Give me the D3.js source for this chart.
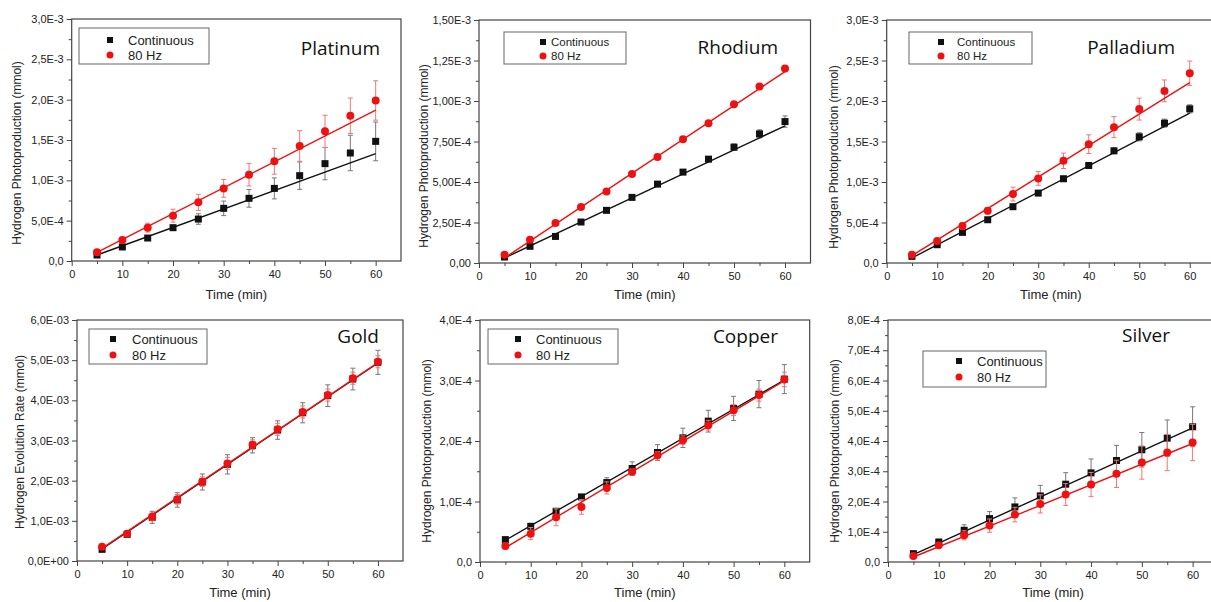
<html>
<script src='https://d3js.org/d3.v7.min.js'></script>
<style>
  body {margin: 0; background: #fff;}
  text {font-family: 'Liberation Sans', Arial, sans-serif;}
  .title {font-family: 'Open Sans', sans-serif; font-size: 19px; fill: #111;}
</style>
<body>
<svg width=1211 height=602></svg>
<script>
// shared time points (min)
const times = [5, 10, 15, 20, 25, 30, 35, 40, 45, 50, 55, 60];
const fitTimes = [5, 60];
const seriesNames = ['Continuous', '80 Hz'];

// Platinum
const ptCont    = [0.074e-3, 0.174e-3, 0.285e-3, 0.413e-3, 0.52e-3, 0.653e-3, 0.777e-3, 0.90e-3, 1.058e-3, 1.207e-3, 1.339e-3, 1.483e-3];
const ptContErr = [0.01e-3, 0.015e-3, 0.02e-3, 0.03e-3, 0.065e-3, 0.09e-3, 0.11e-3, 0.13e-3, 0.17e-3, 0.2e-3, 0.22e-3, 0.24e-3];
const ptHz      = [0.107e-3, 0.26e-3, 0.413e-3, 0.562e-3, 0.727e-3, 0.90e-3, 1.07e-3, 1.236e-3, 1.426e-3, 1.607e-3, 1.80e-3, 1.99e-3];
const ptHzErr   = [0.02e-3, 0.03e-3, 0.055e-3, 0.08e-3, 0.1e-3, 0.11e-3, 0.14e-3, 0.16e-3, 0.19e-3, 0.2e-3, 0.22e-3, 0.244e-3];
const ptContFit = [0.074e-3, 1.33e-3];
const ptHzFit   = [0.107e-3, 1.87e-3];
const ptTicks   = ['0,0', '5,0E-4', '1,0E-3', '1,5E-3', '2,0E-3', '2,5E-3', '3,0E-3'];

// Rhodium
const rhCont    = [0.037e-3, 0.103e-3, 0.164e-3, 0.253e-3, 0.325e-3, 0.405e-3, 0.487e-3, 0.561e-3, 0.641e-3, 0.715e-3, 0.797e-3, 0.873e-3];
const rhContErr = [0.005e-3, 0.005e-3, 0.008e-3, 0.008e-3, 0.008e-3, 0.008e-3, 0.01e-3, 0.01e-3, 0.012e-3, 0.02e-3, 0.025e-3, 0.035e-3];
const rhHz      = [0.051e-3, 0.144e-3, 0.247e-3, 0.345e-3, 0.442e-3, 0.549e-3, 0.655e-3, 0.764e-3, 0.863e-3, 0.98e-3, 1.089e-3, 1.20e-3];
const rhHzErr   = [0.005e-3, 0.005e-3, 0.006e-3, 0.006e-3, 0.006e-3, 0.007e-3, 0.007e-3, 0.008e-3, 0.008e-3, 0.01e-3, 0.01e-3, 0.012e-3];
const rhContFit = [0.031e-3, 0.847e-3];
const rhHzFit   = [0.031e-3, 1.181e-3];
const rhTicks   = ['0,00', '2,50E-4', '5,00E-4', '7,50E-4', '1,00E-3', '1,25E-3', '1,50E-3'];

// Palladium
const pdCont    = [0.082e-3, 0.226e-3, 0.378e-3, 0.534e-3, 0.695e-3, 0.863e-3, 1.04e-3, 1.204e-3, 1.385e-3, 1.558e-3, 1.726e-3, 1.903e-3];
const pdContErr = [0.01e-3, 0.015e-3, 0.02e-3, 0.02e-3, 0.03e-3, 0.03e-3, 0.03e-3, 0.03e-3, 0.035e-3, 0.05e-3, 0.05e-3, 0.05e-3];
const pdHz      = [0.103e-3, 0.271e-3, 0.456e-3, 0.645e-3, 0.851e-3, 1.044e-3, 1.262e-3, 1.467e-3, 1.677e-3, 1.90e-3, 2.125e-3, 2.343e-3];
const pdHzErr   = [0.02e-3, 0.02e-3, 0.04e-3, 0.04e-3, 0.085e-3, 0.085e-3, 0.095e-3, 0.115e-3, 0.13e-3, 0.135e-3, 0.135e-3, 0.15e-3];
const pdContFit = [0.062e-3, 1.85e-3];
const pdHzFit   = [0.09e-3, 2.228e-3];
const pdTicks   = ['0,0', '5,0E-4', '1,0E-3', '1,5E-3', '2,0E-3', '2,5E-3', '3,0E-3'];

// Gold
const auCont    = [0.29e-3, 0.664e-3, 1.087e-3, 1.519e-3, 1.967e-3, 2.407e-3, 2.88e-3, 3.26e-3, 3.69e-3, 4.116e-3, 4.53e-3, 4.946e-3];
const auContErr = [0.05e-3, 0.06e-3, 0.15e-3, 0.18e-3, 0.2e-3, 0.24e-3, 0.19e-3, 0.23e-3, 0.25e-3, 0.27e-3, 0.27e-3, 0.30e-3];
const auHz      = [0.357e-3, 0.68e-3, 1.10e-3, 1.535e-3, 1.975e-3, 2.43e-3, 2.896e-3, 3.278e-3, 3.71e-3, 4.13e-3, 4.55e-3, 4.96e-3];
const auHzErr   = [0.04e-3, 0.05e-3, 0.1e-3, 0.12e-3, 0.12e-3, 0.15e-3, 0.12e-3, 0.15e-3, 0.15e-3, 0.15e-3, 0.15e-3, 0.15e-3];
const auContFit = [0.3e-3, 4.93e-3];
const auHzFit   = [0.315e-3, 4.94e-3];
const auTicks   = ['0,0E+00', '1,0E-03', '2,0E-03', '3,0E-03', '4,0E-03', '5,0E-03', '6,0E-03'];

// Copper
const cuCont    = [0.37e-4, 0.59e-4, 0.839e-4, 1.076e-4, 1.313e-4, 1.545e-4, 1.81e-4, 2.052e-4, 2.328e-4, 2.538e-4, 2.775e-4, 3.023e-4];
const cuContErr = [0.02e-4, 0.03e-4, 0.03e-4, 0.04e-4, 0.08e-4, 0.11e-4, 0.13e-4, 0.16e-4, 0.18e-4, 0.2e-4, 0.225e-4, 0.24e-4];
const cuHz      = [0.265e-4, 0.469e-4, 0.739e-4, 0.91e-4, 1.225e-4, 1.49e-4, 1.766e-4, 2.014e-4, 2.262e-4, 2.51e-4, 2.759e-4, 3.018e-4];
const cuHzErr   = [0.05e-4, 0.1e-4, 0.14e-4, 0.12e-4, 0.1e-4, 0.05e-4, 0.06e-4, 0.07e-4, 0.08e-4, 0.09e-4, 0.1e-4, 0.12e-4];
const cuContFit = [0.359e-4, 3.007e-4];
const cuHzFit   = [0.237e-4, 2.996e-4];
const cuTicks   = ['0,0', '1,0E-4', '2,0E-4', '3,0E-4', '4,0E-4'];

// Silver
const agCont    = [0.276e-4, 0.662e-4, 1.049e-4, 1.435e-4, 1.82e-4, 2.185e-4, 2.572e-4, 2.947e-4, 3.355e-4, 3.71e-4, 4.095e-4, 4.47e-4];
const agContErr = [0.03e-4, 0.05e-4, 0.18e-4, 0.23e-4, 0.3e-4, 0.35e-4, 0.38e-4, 0.46e-4, 0.5e-4, 0.57e-4, 0.6e-4, 0.66e-4];
const agHz      = [0.199e-4, 0.552e-4, 0.883e-4, 1.203e-4, 1.567e-4, 1.92e-4, 2.23e-4, 2.56e-4, 2.914e-4, 3.289e-4, 3.62e-4, 3.95e-4];
const agHzErr   = [0.03e-4, 0.05e-4, 0.15e-4, 0.22e-4, 0.24e-4, 0.3e-4, 0.36e-4, 0.4e-4, 0.45e-4, 0.55e-4, 0.6e-4, 0.6e-4];
const agContFit = [0.243e-4, 4.437e-4];
const agHzFit   = [0.166e-4, 3.918e-4];
const agTicks   = ['0,0', '1,0E-4', '2,0E-4', '3,0E-4', '4,0E-4', '5,0E-4', '6,0E-4', '7,0E-4', '8,0E-4'];

const xTicks = [0, 10, 20, 30, 40, 50, 60];
const xMinor = [5, 15, 25, 35, 45, 55];

const black = '#111', red = '#ee1111';
const blackErr = '#777', redErr = '#e77';

// panel layout
const panels = [
  {name: 'Platinum', cont: ptCont, contErr: ptContErr, hz: ptHz, hzErr: ptHzErr, contFit: ptContFit, hzFit: ptHzFit,
   ticks: ptTicks, yMax: 3.0e-3, ylab: 'Hydrogen Photoproduction (mmol)',
   box: [71.7, 401, 19, 261], ylx: 17, yly: 153, xly: 299, title: [380, 55],
   leg: {x0: 79, x1: 209, y0: 28, y1: 64, mx: 110, tx: 128, r1: 40, r2: 55, fs: 13}},
  {name: 'Rhodium', cont: rhCont, contErr: rhContErr, hz: rhHz, hzErr: rhHzErr, contFit: rhContFit, hzFit: rhHzFit,
   ticks: rhTicks, yMax: 1.5e-3, ylab: 'Hydrogen Photoproduction (mmol)',
   box: [479, 810.5, 20, 263], ylx: 424, yly: 156, xly: 299, title: [778, 54],
   leg: {x0: 504, x1: 626, y0: 32, y1: 64, mx: 543, tx: 551, r1: 42, r2: 56, fs: 11.5}},
  {name: 'Palladium', cont: pdCont, contErr: pdContErr, hz: pdHz, hzErr: pdHzErr, contFit: pdContFit, hzFit: pdHzFit,
   ticks: pdTicks, yMax: 3.0e-3, ylab: 'Hydrogen Photoproduction (mmol)',
   box: [886.7, 1215, 20, 263], ylx: 834, yly: 157, xly: 299, title: [1175, 54],
   leg: {x0: 909, x1: 1032, y0: 32, y1: 64, mx: 941, tx: 957, r1: 42, r2: 56, fs: 11.5}},
  {name: 'Gold', cont: auCont, contErr: auContErr, hz: auHz, hzErr: auHzErr, contFit: auContFit, hzFit: auHzFit,
   ticks: auTicks, yMax: 6.0e-3, ylab: 'Hydrogen Evolution Rate (mmol)',
   box: [77, 403, 320, 561], ylx: 20, yly: 442, xly: 597, title: [379, 343],
   leg: {x0: 89, x1: 207, y0: 329, y1: 364, mx: 113, tx: 132, r1: 339, r2: 355, fs: 13}},
  {name: 'Copper', cont: cuCont, contErr: cuContErr, hz: cuHz, hzErr: cuHzErr, contFit: cuContFit, hzFit: cuHzFit,
   ticks: cuTicks, yMax: 4.0e-4, ylab: 'Hydrogen Photoproduction (mmol)',
   box: [480, 809.7, 320, 562], ylx: 427, yly: 451, xly: 597, title: [778, 343],
   leg: {x0: 488, x1: 618, y0: 329, y1: 364, mx: 518, tx: 536, r1: 339, r2: 355, fs: 13}},
  {name: 'Silver', cont: agCont, contErr: agContErr, hz: agHz, hzErr: agHzErr, contFit: agContFit, hzFit: agHzFit,
   ticks: agTicks, yMax: 8.0e-4, ylab: 'Hydrogen Photoproduction (mmol)',
   box: [888, 1218, 320, 562], ylx: 835, yly: 451, xly: 597, title: [1170, 342],
   leg: {x0: 923, x1: 1046, y0: 351, y1: 387, mx: 959, tx: 977, r1: 361, r2: 377, fs: 13}}
];

const svg = d3.select('svg');

panels.forEach(function(p) {
  const [L, R, T, B] = p.box;
  const x = d3.scaleLinear().domain([0, 65]).range([L, R]);
  const y = d3.scaleLinear().domain([0, p.yMax]).range([B, T]);
  const g = svg.append('g');
  const nT = p.ticks.length;
  const yMajor = d3.range(nT).map(i => p.yMax * i / (nT - 1));
  const yMinorV = d3.range(nT - 1).map(i => p.yMax * (i + 0.5) / (nT - 1));

  // frame
  g.append('rect').attr('x', L).attr('y', T).attr('width', R - L).attr('height', B - T)
    .attr('fill', 'none').attr('stroke', '#444').attr('stroke-width', 1.2);

  // axes
  const ax = g.append('g').attr('transform', 'translate(0,' + B + ')')
    .call(d3.axisBottom(x).tickValues(xTicks).tickSize(5).tickPadding(4));
  g.append('g').attr('transform', 'translate(0,' + B + ')')
    .call(d3.axisBottom(x).tickValues(xMinor).tickSize(3).tickFormat(''));
  g.append('g').attr('transform', 'translate(' + L + ',0)')
    .call(d3.axisLeft(y).tickValues(yMajor).tickSize(5).tickPadding(3).tickFormat((d, i) => p.ticks[i]));
  g.append('g').attr('transform', 'translate(' + L + ',0)')
    .call(d3.axisLeft(y).tickValues(yMinorV).tickSize(3).tickFormat(''));
  g.selectAll('.domain').remove();
  g.selectAll('.tick line').attr('stroke', '#444');
  g.selectAll('.tick text').attr('fill', '#222').style('font-size', '11px');

  // axis titles
  g.append('text').attr('x', (L + R) / 2).attr('y', p.xly).attr('text-anchor', 'middle')
    .style('font-size', '13px').attr('fill', '#222').text('Time (min)');
  g.append('text').attr('transform', 'translate(' + p.ylx + ',' + p.yly + ') rotate(-90)')
    .attr('text-anchor', 'middle').attr('dy', '0.35em').style('font-size', '12px').attr('fill', '#222').text(p.ylab);

  // series: continuous then 80 Hz
  const series = [
    {v: p.cont, e: p.contErr, f: p.contFit, c: black, ec: blackErr, sq: true},
    {v: p.hz, e: p.hzErr, f: p.hzFit, c: red, ec: redErr, sq: false}
  ];
  series.forEach(function(s) {
    const eg = g.append('g').attr('stroke', s.ec).attr('stroke-width', 1);
    times.forEach(function(t, i) {
      const cx = x(t), y0 = y(s.v[i] - s.e[i]), y1 = y(s.v[i] + s.e[i]);
      eg.append('line').attr('x1', cx).attr('x2', cx).attr('y1', y0).attr('y2', y1);
      eg.append('line').attr('x1', cx - 2.5).attr('x2', cx + 2.5).attr('y1', y0).attr('y2', y0);
      eg.append('line').attr('x1', cx - 2.5).attr('x2', cx + 2.5).attr('y1', y1).attr('y2', y1);
    });
    g.append('path')
      .attr('d', d3.line()(fitTimes.map((t, i) => [x(t), y(s.f[i])])))
      .attr('fill', 'none').attr('stroke', s.c).attr('stroke-width', 1.4);
    if (s.sq) {
      g.selectAll(null).data(times).enter().append('rect')
        .attr('x', d => x(d) - 3.5).attr('y', (d, i) => y(s.v[i]) - 3.5)
        .attr('width', 7).attr('height', 7).attr('fill', s.c);
    } else {
      g.selectAll(null).data(times).enter().append('circle')
        .attr('cx', d => x(d)).attr('cy', (d, i) => y(s.v[i]))
        .attr('r', 4).attr('fill', s.c);
    }
  });

  // legend
  const lg = p.leg;
  g.append('rect').attr('x', lg.x0).attr('y', lg.y0).attr('width', lg.x1 - lg.x0).attr('height', lg.y1 - lg.y0)
    .attr('fill', '#fff').attr('stroke', '#666').attr('stroke-width', 1);
  g.append('rect').attr('x', lg.mx - 3).attr('y', lg.r1 - 3).attr('width', 6).attr('height', 6).attr('fill', black);
  g.append('circle').attr('cx', lg.mx).attr('cy', lg.r2).attr('r', 3.5).attr('fill', red);
  g.append('text').attr('x', lg.tx).attr('y', lg.r1).attr('dy', '0.35em').style('font-size', lg.fs + 'px')
    .attr('fill', '#222').text(seriesNames[0]);
  g.append('text').attr('x', lg.tx).attr('y', lg.r2).attr('dy', '0.35em').style('font-size', lg.fs + 'px')
    .attr('fill', '#222').text(seriesNames[1]);

  // metal name
  g.append('text').attr('class', 'title').attr('x', p.title[0]).attr('y', p.title[1])
    .attr('text-anchor', 'end').text(p.name);
});
</script>
</body>
</html>
